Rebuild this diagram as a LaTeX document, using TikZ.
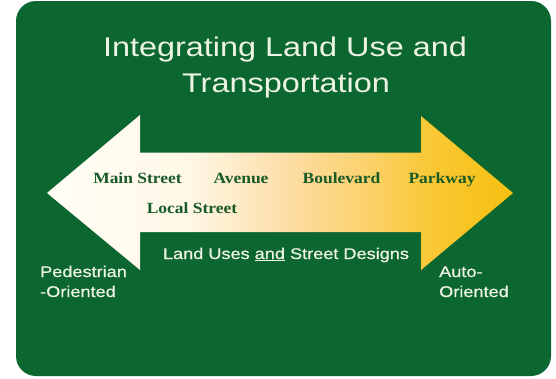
\documentclass[tikz,border=0pt]{standalone}
\usepackage{fontspec}
\setmainfont{Liberation Sans}
\newfontfamily\titlef[FakeStretch=1.2]{Liberation Sans}
\newfontfamily\sidef[FakeStretch=1.17,FakeBold=0.6]{Liberation Sans}
\newfontfamily\streetf[FakeStretch=1.12]{Liberation Serif}
\definecolor{bggreen}{RGB}{12,102,48}
\definecolor{labgreen}{RGB}{24,90,40}
\definecolor{lighttxt}{RGB}{238,244,228}
\definecolor{sA}{RGB}{255,254,246}
\definecolor{sB}{RGB}{255,248,232}
\definecolor{sC}{RGB}{252,221,165}
\definecolor{sD}{RGB}{251,210,110}
\definecolor{sE}{RGB}{249,200,53}
\definecolor{sF}{RGB}{246,192,16}
\pgfdeclarehorizontalshading{arrowshade}{100bp}{color(0bp)=(sA); color(25bp)=(sA); color(40bp)=(sB); color(51bp)=(sC); color(59bp)=(sD); color(66bp)=(sE); color(75bp)=(sF); color(100bp)=(sF)}
\tikzset{
  titletxt/.style={text=lighttxt, font=\titlef\fontsize{27}{30}\selectfont, anchor=base, inner sep=0pt},
  streettxt/.style={text=labgreen, font=\streetf\bfseries\fontsize{15.6}{17}\selectfont, anchor=base, inner sep=0pt},
  sidetxt/.style={text=lighttxt, font=\sidef\fontsize{15.5}{18}\selectfont, anchor=base west, inner sep=0pt},
}
\begin{document}
\begin{tikzpicture}[x=1pt,y=-1pt]
\useasboundingbox (0,0) rectangle (556,378);
\fill[white] (0,0) rectangle (556,378);
\fill[bggreen, rounded corners=20pt] (16,1) rectangle (551,376);
% double arrow
\shade[shading=arrowshade]
  (47,193) -- (140,115) -- (140,152.5) -- (421,152.5) -- (421,116) -- (513,193)
  -- (421,270) -- (421,232) -- (140,232) -- (140,270) -- cycle;
% title
\node[titletxt] (t1) at (285,56) {Integrating Land Use and};
\node[titletxt] (t2) at (286,92) {Transportation};
% street labels
\node[streettxt] (main) at (137.5,183) {Main Street};
\node[streettxt] (ave) at (241,183) {Avenue};
\node[streettxt] (boul) at (341.5,183) {Boulevard};
\node[streettxt] (park) at (442,183) {Parkway};
\node[streettxt] (local) at (192,213) {Local Street};
% bottom labels
\node[sidetxt, anchor=base] (lu) at (286,259) {Land Uses \underline{and} Street Designs};
\node[sidetxt] (ped1) at (40,277) {Pedestrian};
\node[sidetxt] (ped2) at (40,297) {-Oriented};
\node[sidetxt] (auto1) at (439,277) {Auto-};
\node[sidetxt] (auto2) at (439,297) {Oriented};
\end{tikzpicture}
\end{document}
